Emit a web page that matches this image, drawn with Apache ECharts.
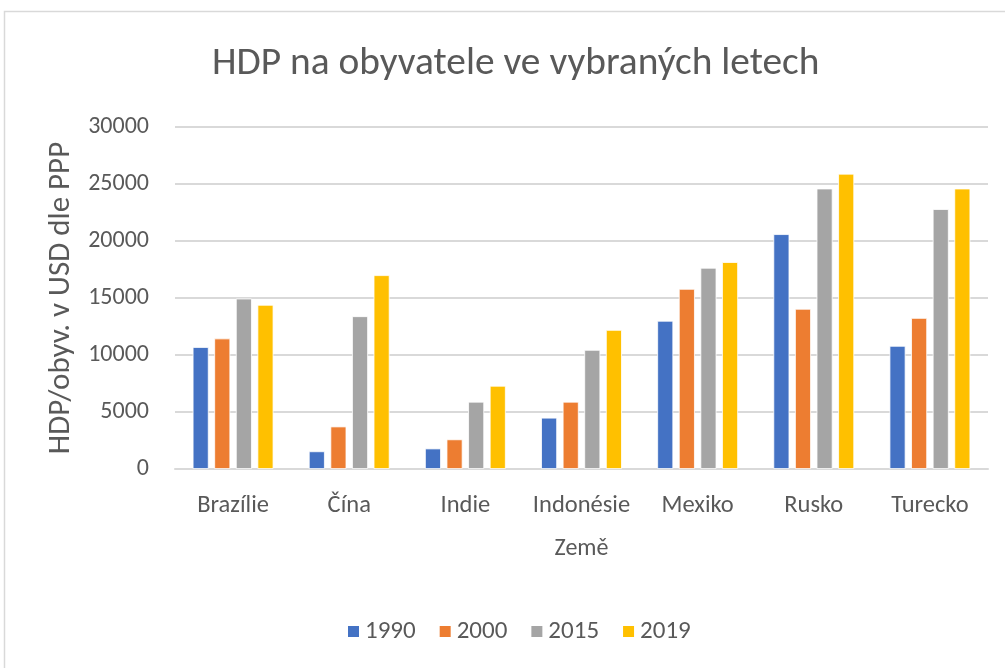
<!DOCTYPE html>
<html lang="cs">
<head>
    <meta charset="UTF-8">
    <title>HDP na obyvatele</title>
    <style>
        * {
            margin: 0;
            padding: 0;
            box-sizing: border-box;
        }

        html, body {
            width: 1005px;
            height: 668px;
            background: #ffffff;
            overflow: hidden;
        }

        #chart {
            width: 1005px;
            height: 668px;
        }
    </style>
    <script src="https://cdn.jsdelivr.net/npm/echarts@6/dist/echarts.min.js"></script>
</head>
<body>
<div id="chart"></div>
<script type="text/javascript">
    var countries = ['Brazílie', 'Čína', 'Indie', 'Indonésie', 'Mexiko', 'Rusko', 'Turecko']
    var years = ['1990', '2000', '2015', '2019']
    var gdp1990 = [10700, 1550, 1800, 4500, 13000, 20600, 10800]
    var gdp2000 = [11450, 3730, 2600, 5900, 15800, 14050, 13250]
    var gdp2015 = [14950, 13400, 5900, 10450, 17650, 24600, 22800]
    var gdp2019 = [14400, 17000, 7300, 12200, 18150, 25900, 24600]
    var yTicks = [0, 30000, 5000]
    var colors = ['#4472C4', '#ED7D31', '#A5A5A5', '#FFC000']

    var font = 'Carlito, "Open Sans", "Liberation Sans", sans-serif'
    var textColor = '#595959'
    var seriesData = [gdp1990, gdp2000, gdp2015, gdp2019]

    var myChart = echarts.init(document.getElementById('chart'))
    var option = {
        animation: false,
        color: colors,
        textStyle: {
            fontFamily: font
        },
        graphic: [
            {
                type: 'rect',
                shape: {x: 4.5, y: 11.5, width: 1010, height: 680},
                style: {fill: 'none', stroke: '#D9D9D9', lineWidth: 1.5},
                silent: true
            }
        ],
        title: {
            text: 'HDP na obyvatele ve vybraných letech',
            left: 207,
            top: 40,
            textStyle: {
                fontFamily: font,
                fontSize: 39.4,
                fontWeight: 'normal',
                color: textColor
            }
        },
        legend: {
            bottom: 19,
            left: 341,
            itemWidth: 13,
            itemHeight: 13,
            itemGap: 22,
            icon: 'rect',
            textStyle: {
                fontFamily: font,
                fontSize: 25,
                color: textColor,
                padding: [0, 0, 0, 0]
            },
            data: years
        },
        grid: {
            left: 175,
            right: 17,
            top: 127,
            bottom: 199
        },
        xAxis: {
            type: 'category',
            data: countries,
            name: 'Země',
            nameLocation: 'middle',
            nameGap: 68,
            nameTextStyle: {
                fontFamily: font,
                fontSize: 24,
                color: textColor
            },
            axisLine: {
                lineStyle: {color: '#D9D9D9', width: 2}
            },
            axisTick: {show: false},
            axisLabel: {
                interval: 0,
                margin: 24,
                fontFamily: font,
                fontSize: 24.5,
                color: textColor
            }
        },
        yAxis: {
            type: 'value',
            min: yTicks[0],
            max: yTicks[1],
            interval: yTicks[2],
            name: 'HDP/obyv. v USD dle PPP',
            nameLocation: 'middle',
            nameGap: 98,
            nameTextStyle: {
                fontFamily: font,
                fontSize: 31,
                color: textColor
            },
            axisLine: {show: false},
            axisTick: {show: false},
            axisLabel: {
                margin: 26,
                fontFamily: font,
                fontSize: 24,
                color: textColor,
                formatter: function (v) {
                    return String(v)
                }
            },
            splitLine: {
                lineStyle: {color: '#D9D9D9', width: 2}
            }
        },
        series: years.map(function (y, i) {
            return {
                name: y,
                type: 'bar',
                data: seriesData[i],
                barWidth: 16,
                barGap: '35%',
                itemStyle: {
                    borderColor: '#ffffff',
                    borderWidth: 0.8
                }
            }
        })
    }
    myChart.setOption(option)
</script>
</body>
</html>
